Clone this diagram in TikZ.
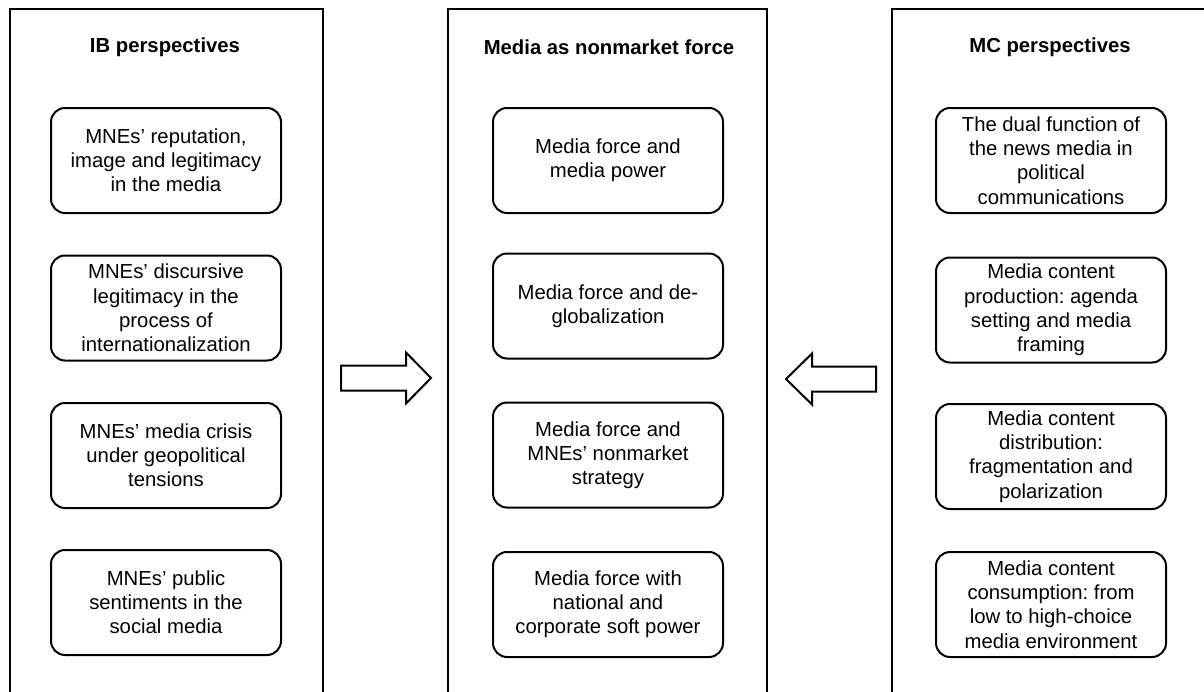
\documentclass[tikz,border=0pt]{standalone}
\usepackage{fontspec}
\setmainfont{Liberation Sans}
\frenchspacing
\begin{document}
\begin{tikzpicture}[x=1pt,y=-1pt,
  every node/.style={font=\fontsize{20.3}{24.2}\selectfont},
  column/.style={line width=2pt, draw=black},
  title/.style={font=\fontsize{20.3}{24.2}\selectfont\bfseries, anchor=center},
  item/.style={draw=black, line width=2pt, rounded corners=14pt, align=center,
    minimum width=230pt, minimum height=105pt, inner sep=0pt},
  blockarrow/.style={draw=black, line width=2pt, line join=miter, fill=white}]
\useasboundingbox (0,0) rectangle (1204,691);
\clip (0,0) rectangle (1204,691);

% three open-bottom column frames
\draw[column] (10,720) -- (10,9) -- (323,9) -- (323,720);
\draw[column] (448,720) -- (448,9) -- (767,9) -- (767,720);
\draw[column] (892,720) -- (892,9) -- (1240,9);

% column titles
\node[title] (tIB) at (165,47) {IB perspectives};
\node[title] (tMid) at (609,47) {Media as nonmarket force};
\node[title] (tMC) at (1050,47) {MC perspectives};

% IB perspectives
\node[item] (ib1) at (166,160.5) {MNEs’ reputation,\\image and legitimacy\\in the media};
\node[item] (ib2) at (166,308) {MNEs’ discursive\\legitimacy in the\\process of\\internationalization};
\node[item] (ib3) at (166,455.5) {MNEs’ media crisis\\under geopolitical\\tensions};
\node[item] (ib4) at (166,602.5) {MNEs’ public\\sentiments in the\\social media};

% media as nonmarket force
\node[item] (m1) at (608,160.5) {Media force and\\media power};
\node[item] (m2) at (608,306) {Media force and de-\\globalization};
\node[item] (m3) at (608,455) {Media force and\\MNEs’ nonmarket\\strategy};
\node[item] (m4) at (608,604.5) {Media force with\\national and\\corporate soft power};

% MC perspectives
\node[item] (mc1) at (1051,160.5) {The dual function of\\the news media in\\political\\communications};
\node[item] (mc2) at (1051,310) {Media content\\production: agenda\\setting and media\\framing};
\node[item] (mc3) at (1051,456.5) {Media content\\distribution:\\fragmentation and\\polarization};
\node[item] (mc4) at (1051,604.5) {Media content\\consumption: from\\low to high-choice\\media environment};

% block arrows pointing into the middle column
\draw[blockarrow] (341,365.5) -- (406,365.5) -- (406,352.5) -- (431,378)
  -- (406,403.5) -- (406,390.5) -- (341,390.5) -- cycle;
\draw[blockarrow] (876,366.5) -- (812,366.5) -- (812,353.5) -- (786,379)
  -- (812,404.5) -- (812,391.5) -- (876,391.5) -- cycle;
\end{tikzpicture}
\end{document}
